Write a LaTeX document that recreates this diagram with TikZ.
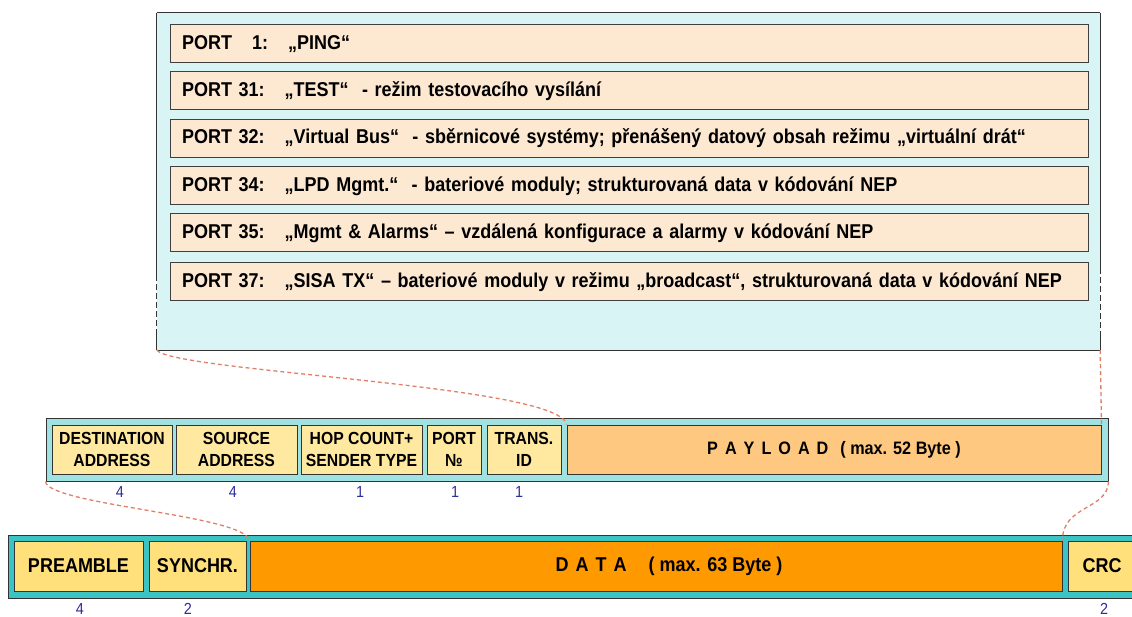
\documentclass[tikz,border=0pt]{standalone}
\usepackage{fontspec}
\setmainfont{Liberation Sans}[FakeStretch=0.9]
\definecolor{framecyan}{HTML}{D8F4F4}
\definecolor{peach}{HTML}{FDE9D2}
\definecolor{midteal}{HTML}{A0E2E2}
\definecolor{botteal}{HTML}{3CC4C4}
\definecolor{fieldyellow}{HTML}{FFE8A0}
\definecolor{payloadorange}{HTML}{FFC880}
\definecolor{bottomyellow}{HTML}{FFE07A}
\definecolor{dataorange}{HTML}{FF9900}
\definecolor{salmon}{HTML}{E08068}
\definecolor{navynum}{HTML}{2E2E99}
\newcommand\lsp{\hspace{7pt}}
\begin{document}
\begin{tikzpicture}[x=1pt,y=-1pt,
  frameline/.style={draw=black!80, line width=1pt},
  portrow/.style={draw=black!75, line width=1pt, fill=peach, text width=894pt, inner xsep=12pt, inner ysep=0pt, minimum height=38pt, align=left, font=\fontsize{20}{22}\selectfont\bfseries},
  band/.style={draw=black!80, line width=1pt, inner sep=0pt, minimum height=63pt},
  fieldbox/.style={draw=black!80, line width=1pt, fill=fieldyellow, inner sep=0pt, minimum height=49pt, align=center, font=\fontsize{17.5}{22}\selectfont\bfseries},
  botbox/.style={draw=black!80, line width=1pt, fill=bottomyellow, inner sep=0pt, minimum height=50pt, align=center, font=\fontsize{20}{22}\selectfont\bfseries},
  num/.style={text=navynum, inner sep=0pt, font=\fontsize{16}{16}\selectfont},
  conn/.style={draw=salmon, dash pattern=on 4pt off 3pt, line width=1.3pt}
]
\clip (0,0) rectangle (1132,617);
\fill[white] (0,0) rectangle (1132,617);

% top frame with port list
\node[fill=framecyan, inner sep=0pt, minimum width=943pt, minimum height=337pt] (ports) at (628.5,181.5) {};
\draw[frameline] (ports.north west) -- (ports.north east);
\draw[frameline] (ports.south west) -- (ports.south east);
\draw[frameline] (ports.north west) -- ++(0,262) coordinate (lA);
\draw[frameline, dash pattern=on 6pt off 3pt] (lA) -- ++(0,55) coordinate (lB);
\draw[frameline] (lB) -- (ports.south west);
\draw[frameline] (ports.north east) -- ++(0,255) coordinate (rA);
\draw[frameline, dash pattern=on 6pt off 3pt] (rA) -- ++(0,65) coordinate (rB);
\draw[frameline] (rB) -- (ports.south east);

\node[portrow] (p1) at (629,44) {PORT\ \ \ 1:\ \ \ „PING“};
\node[portrow] (p2) at (629,91) {PORT 31:\ \ \ „TEST“\ \ - režim testovacího\ vysílání};
\node[portrow] (p3) at (629,138.5) {PORT 32:\ \ \ „Virtual Bus“\ \ - sběrnicové systémy;\ přenášený datový obsah režimu „virtuální drát“};
\node[portrow] (p4) at (629,186) {PORT 34:\ \ \ „LPD Mgmt.“\ \ - bateriové\ moduly; strukturovaná\ data v kódování NEP};
\node[portrow] (p5) at (629,233) {PORT 35:\ \ \ „Mgmt \& Alarms“ – vzdálená\ konfigurace a alarmy v kódování NEP};
\node[portrow] (p6) at (629,282) {PORT 37:\ \ \ „SISA TX“ – bateriové\ moduly v režimu „broadcast“, strukturovaná\ data v kódování NEP};

% middle band (payload structure)
\node[band, fill=midteal, minimum width=1062pt] (mid) at (577,449.5) {};
\node[fieldbox, minimum width=120pt] (dest) at (112,449.5) {DESTINATION\\ADDRESS};
\node[fieldbox, minimum width=121pt] (src) at (236.5,449.5) {SOURCE\\ADDRESS};
\node[fieldbox, minimum width=121pt] (hop) at (361.5,449.5) {HOP COUNT+\\SENDER TYPE};
\node[fieldbox, minimum width=54pt] (port) at (454,449.5) {PORT\\№};
\node[fieldbox, minimum width=74pt] (trans) at (524,449.5) {TRANS.\\ID};
\node[fieldbox, fill=payloadorange, minimum width=534pt, font=\fontsize{18}{20}\selectfont\bfseries] (payload) at (834,449.5) {P\lsp A\lsp Y\lsp L\lsp O\lsp A\lsp D\hspace{12pt}( max. 52 Byte )};

\node[num] (n1) at (120,492) {4};
\node[num] (n2) at (233,492) {4};
\node[num] (n3) at (360,492) {1};
\node[num] (n4) at (455,492) {1};
\node[num] (n5) at (519,492) {1};

% bottom band (frame)
\node[band, fill=botteal, minimum width=1132pt] (bot) at (574,566.5) {};
\node[botbox, minimum width=129pt] (pre) at (78.5,566) {PREAMBLE};
\node[botbox, minimum width=97pt] (sync) at (197.5,566) {SYNCHR.};
\node[botbox, fill=dataorange, minimum width=812pt] (data) at (656,566) {\hspace{26pt}D\lsp A\lsp T\lsp A\hspace{22pt}( max. 63 Byte )};
\node[botbox, minimum width=68pt] (crc) at (1102,566) {CRC};

\node[num] (m1) at (80,609) {4};
\node[num] (m2) at (188,609) {2};
\node[num] (m3) at (1104,609) {2};

% dashed connectors
\draw[conn] (ports.south west) .. controls (175,372) and (560,385) .. (payload.north west);
\draw[conn] (ports.south east) -- (payload.north east);
\draw[conn] (mid.south west) .. controls (48,505) and (245,515) .. (data.north west);
\draw[conn] (mid.south east) .. controls (1108,510) and (1062,505) .. (data.north east);
\end{tikzpicture}
\end{document}
